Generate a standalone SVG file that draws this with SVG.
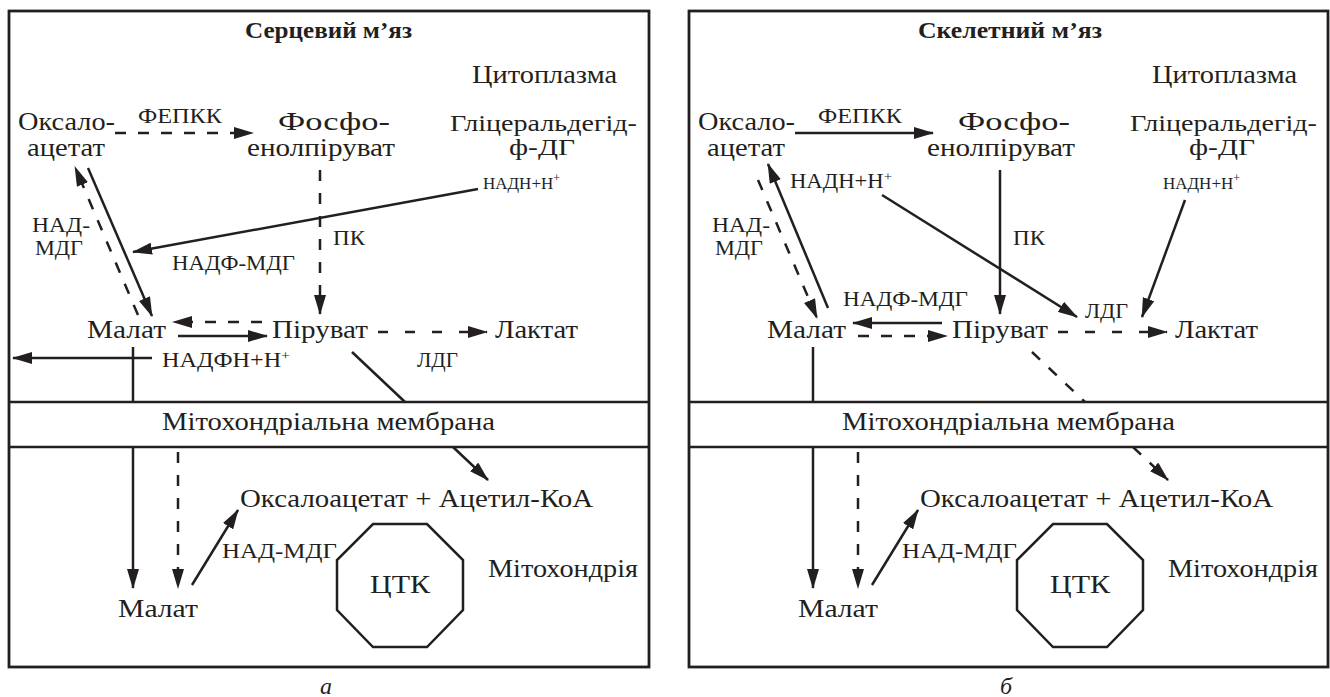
<svg xmlns="http://www.w3.org/2000/svg" width="1330" height="697" viewBox="0 0 1330 697">
<style>
.t{font-family:"Liberation Serif","Times New Roman",serif;font-size:25px;fill:#231f20}
.g{font-size:23px}
.s{font-size:20px}
.xs{font-size:17px}
.b{font-weight:bold;font-size:23px}
.i{font-style:italic;font-size:24px}
.ln{stroke:#231f20;stroke-width:2.5;fill:none}
.fr{stroke:#231f20;stroke-width:2.8;fill:none}
.d{stroke-dasharray:11 12}
.d2{stroke-dasharray:10 17}
</style>
<defs>
<marker id="ah" viewBox="0 0 20 12" refX="19" refY="6" markerWidth="20" markerHeight="12" markerUnits="userSpaceOnUse" orient="auto">
<path d="M0,0 L20,6 L0,12 z" fill="#231f20"/>
</marker>
</defs>
<rect width="1330" height="697" fill="#fff"/>

<g id="panel-a-frame">
<rect class="fr" x="9" y="11" width="640" height="656"/>
<line class="ln" x1="9" y1="402" x2="649" y2="402"/>
<line class="ln" x1="9" y1="447" x2="649" y2="447"/>
<polygon class="ln" points="373,524 427,524 463,560 463,610 427,647 373,647 337,610 337,560"/>
</g>

<g id="panel-b-frame">
<rect class="fr" x="689" y="11" width="639" height="656"/>
<line class="ln" x1="689" y1="402" x2="1328" y2="402"/>
<line class="ln" x1="689" y1="447" x2="1328" y2="447"/>
<polygon class="ln" points="1053,524 1107,524 1143,560 1143,610 1107,647 1053,647 1017,610 1017,560"/>
</g>

<g id="connectors">
<line class="ln d" x1="115" y1="133" x2="253" y2="133" marker-end="url(#ah)"/>
<line class="ln d" x1="320" y1="170" x2="320" y2="314" marker-end="url(#ah)"/>
<line class="ln" x1="478" y1="189" x2="133" y2="252" marker-end="url(#ah)"/>
<line class="ln" x1="88" y1="168" x2="152" y2="316" marker-end="url(#ah)"/>
<line class="ln d" x1="138" y1="315" x2="75" y2="167" marker-end="url(#ah)"/>
<line class="ln d" x1="262" y1="322" x2="173" y2="322" marker-end="url(#ah)"/>
<line class="ln" x1="178" y1="336" x2="267" y2="336" marker-end="url(#ah)"/>
<line class="ln d2" x1="378" y1="332" x2="487" y2="332" marker-end="url(#ah)"/>
<line class="ln" x1="152" y1="358" x2="13" y2="358" marker-end="url(#ah)"/>
<line class="ln" x1="133" y1="347" x2="133" y2="402"/>
<line class="ln" x1="133" y1="447" x2="133" y2="588" marker-end="url(#ah)"/>
<line class="ln d" x1="178" y1="452" x2="178" y2="588" marker-end="url(#ah)"/>
<line class="ln" x1="192" y1="585" x2="238" y2="510" marker-end="url(#ah)"/>
<line class="ln" x1="352" y1="352" x2="405" y2="402"/>
<line class="ln" x1="453" y1="447" x2="488" y2="480" marker-end="url(#ah)"/>
<line class="ln" x1="795" y1="133" x2="933" y2="133" marker-end="url(#ah)"/>
<line class="ln" x1="1000" y1="170" x2="1000" y2="314" marker-end="url(#ah)"/>
<line class="ln" x1="882" y1="195" x2="1077" y2="317" marker-end="url(#ah)"/>
<line class="ln" x1="1185" y1="200" x2="1142" y2="317" marker-end="url(#ah)"/>
<line class="ln" x1="828" y1="308" x2="768" y2="164" marker-end="url(#ah)"/>
<line class="ln d" x1="758" y1="180" x2="817" y2="318" marker-end="url(#ah)"/>
<line class="ln" x1="942" y1="323" x2="853" y2="323" marker-end="url(#ah)"/>
<line class="ln d" x1="858" y1="336" x2="947" y2="336" marker-end="url(#ah)"/>
<line class="ln d2" x1="1058" y1="332" x2="1167" y2="332" marker-end="url(#ah)"/>
<line class="ln" x1="813" y1="347" x2="813" y2="402"/>
<line class="ln" x1="813" y1="447" x2="813" y2="588" marker-end="url(#ah)"/>
<line class="ln d" x1="858" y1="452" x2="858" y2="588" marker-end="url(#ah)"/>
<line class="ln" x1="872" y1="585" x2="918" y2="510" marker-end="url(#ah)"/>
<line class="ln d" x1="1032" y1="352" x2="1085" y2="402"/>
<line class="ln d" x1="1133" y1="447" x2="1168" y2="480" marker-end="url(#ah)"/>
</g>

<g id="a-title"><text class="t b" x="245" y="38" textLength="167" lengthAdjust="spacingAndGlyphs">Серцевий м’яз</text></g>
<g id="a-cyto"><text class="t" x="472" y="83" textLength="145" lengthAdjust="spacingAndGlyphs">Цитоплазма</text></g>
<g id="a-oaa"><text class="t" x="18" y="130" textLength="97" lengthAdjust="spacingAndGlyphs">Оксало-</text><text class="t" x="27" y="156" textLength="78" lengthAdjust="spacingAndGlyphs">ацетат</text></g>
<g id="a-fepkk"><text class="t s" x="138" y="123" textLength="84" lengthAdjust="spacingAndGlyphs">ФЕПКК</text></g>
<g id="a-pep"><text class="t" x="278" y="130" textLength="112" lengthAdjust="spacingAndGlyphs">Фосфо-</text><text class="t" x="247" y="156" textLength="148" lengthAdjust="spacingAndGlyphs">енолпіруват</text></g>
<g id="a-gap"><text class="t g" x="450" y="131" textLength="187" lengthAdjust="spacingAndGlyphs">Гліцеральдегід-</text><text class="t g" x="509" y="155" textLength="66" lengthAdjust="spacingAndGlyphs">ф-ДГ</text></g>
<g id="a-nadh"><text class="t xs" x="483" y="189" textLength="77" lengthAdjust="spacingAndGlyphs">НАДН+Н<tspan font-size="12" dy="-7">+</tspan></text></g>
<g id="a-nadmdg"><text class="t s" x="32" y="232" textLength="58" lengthAdjust="spacingAndGlyphs">НАД-</text><text class="t s" x="35" y="255" textLength="48" lengthAdjust="spacingAndGlyphs">МДГ</text></g>
<g id="a-nadfmdg"><text class="t s" x="172" y="270" textLength="123" lengthAdjust="spacingAndGlyphs">НАДФ-МДГ</text></g>
<g id="a-pk"><text class="t s" x="333" y="245" textLength="32" lengthAdjust="spacingAndGlyphs">ПК</text></g>
<g id="a-malate"><text class="t" x="87" y="338" textLength="79" lengthAdjust="spacingAndGlyphs">Малат</text></g>
<g id="a-pyruvate"><text class="t" x="272" y="338" textLength="96" lengthAdjust="spacingAndGlyphs">Піруват</text></g>
<g id="a-lactate"><text class="t" x="495" y="338" textLength="83" lengthAdjust="spacingAndGlyphs">Лактат</text></g>
<g id="a-nadph"><text class="t s" x="162" y="367" textLength="128" lengthAdjust="spacingAndGlyphs">НАДФН+Н<tspan font-size="13" dy="-7">+</tspan></text></g>
<g id="a-ldg"><text class="t s" x="417" y="367" textLength="41" lengthAdjust="spacingAndGlyphs">ЛДГ</text></g>
<g id="a-membrane"><text class="t" x="162" y="430" textLength="333" lengthAdjust="spacingAndGlyphs">Мітохондріальна мембрана</text></g>
<g id="a-oaa-acoa"><text class="t" x="240" y="507" textLength="353" lengthAdjust="spacingAndGlyphs">Оксалоацетат + Ацетил-КоА</text></g>
<g id="a-nadmdg2"><text class="t s" x="222" y="558" textLength="115" lengthAdjust="spacingAndGlyphs">НАД-МДГ</text></g>
<g id="a-tca"><text class="t" x="370" y="593" textLength="60" lengthAdjust="spacingAndGlyphs">ЦТК</text></g>
<g id="a-mito"><text class="t" x="488" y="577" textLength="150" lengthAdjust="spacingAndGlyphs">Мітохондрія</text></g>
<g id="a-malate2"><text class="t" x="118" y="617" textLength="80" lengthAdjust="spacingAndGlyphs">Малат</text></g>
<g id="a-label"><text class="t i" x="326" y="694" text-anchor="middle">а</text></g>

<g id="b-title"><text class="t b" x="918" y="38" textLength="184" lengthAdjust="spacingAndGlyphs">Скелетний м’яз</text></g>
<g id="b-cyto"><text class="t" x="1152" y="83" textLength="145" lengthAdjust="spacingAndGlyphs">Цитоплазма</text></g>
<g id="b-oaa"><text class="t" x="698" y="130" textLength="97" lengthAdjust="spacingAndGlyphs">Оксало-</text><text class="t" x="707" y="156" textLength="78" lengthAdjust="spacingAndGlyphs">ацетат</text></g>
<g id="b-fepkk"><text class="t s" x="818" y="123" textLength="84" lengthAdjust="spacingAndGlyphs">ФЕПКК</text></g>
<g id="b-pep"><text class="t" x="958" y="130" textLength="112" lengthAdjust="spacingAndGlyphs">Фосфо-</text><text class="t" x="927" y="156" textLength="148" lengthAdjust="spacingAndGlyphs">енолпіруват</text></g>
<g id="b-gap"><text class="t g" x="1130" y="131" textLength="187" lengthAdjust="spacingAndGlyphs">Гліцеральдегід-</text><text class="t g" x="1189" y="155" textLength="66" lengthAdjust="spacingAndGlyphs">ф-ДГ</text></g>
<g id="b-nadh2"><text class="t xs" x="1163" y="189" textLength="77" lengthAdjust="spacingAndGlyphs">НАДН+Н<tspan font-size="12" dy="-7">+</tspan></text></g>
<g id="b-nadh1"><text class="t s" x="790" y="188" textLength="102" lengthAdjust="spacingAndGlyphs">НАДН+Н<tspan font-size="13" dy="-7">+</tspan></text></g>
<g id="b-nadmdg"><text class="t s" x="712" y="232" textLength="58" lengthAdjust="spacingAndGlyphs">НАД-</text><text class="t s" x="715" y="255" textLength="48" lengthAdjust="spacingAndGlyphs">МДГ</text></g>
<g id="b-pk"><text class="t s" x="1013" y="245" textLength="32" lengthAdjust="spacingAndGlyphs">ПК</text></g>
<g id="b-nadfmdg"><text class="t s" x="843" y="306" textLength="125" lengthAdjust="spacingAndGlyphs">НАДФ-МДГ</text></g>
<g id="b-ldg"><text class="t s" x="1085" y="318" textLength="43" lengthAdjust="spacingAndGlyphs">ЛДГ</text></g>
<g id="b-malate"><text class="t" x="767" y="338" textLength="79" lengthAdjust="spacingAndGlyphs">Малат</text></g>
<g id="b-pyruvate"><text class="t" x="952" y="338" textLength="96" lengthAdjust="spacingAndGlyphs">Піруват</text></g>
<g id="b-lactate"><text class="t" x="1175" y="338" textLength="83" lengthAdjust="spacingAndGlyphs">Лактат</text></g>
<g id="b-membrane"><text class="t" x="842" y="430" textLength="333" lengthAdjust="spacingAndGlyphs">Мітохондріальна мембрана</text></g>
<g id="b-oaa-acoa"><text class="t" x="920" y="507" textLength="353" lengthAdjust="spacingAndGlyphs">Оксалоацетат + Ацетил-КоА</text></g>
<g id="b-nadmdg2"><text class="t s" x="902" y="558" textLength="115" lengthAdjust="spacingAndGlyphs">НАД-МДГ</text></g>
<g id="b-tca"><text class="t" x="1050" y="593" textLength="60" lengthAdjust="spacingAndGlyphs">ЦТК</text></g>
<g id="b-mito"><text class="t" x="1168" y="577" textLength="150" lengthAdjust="spacingAndGlyphs">Мітохондрія</text></g>
<g id="b-malate2"><text class="t" x="798" y="617" textLength="80" lengthAdjust="spacingAndGlyphs">Малат</text></g>
<g id="b-label"><text class="t i" x="1006" y="694" text-anchor="middle">б</text></g>
</svg>
